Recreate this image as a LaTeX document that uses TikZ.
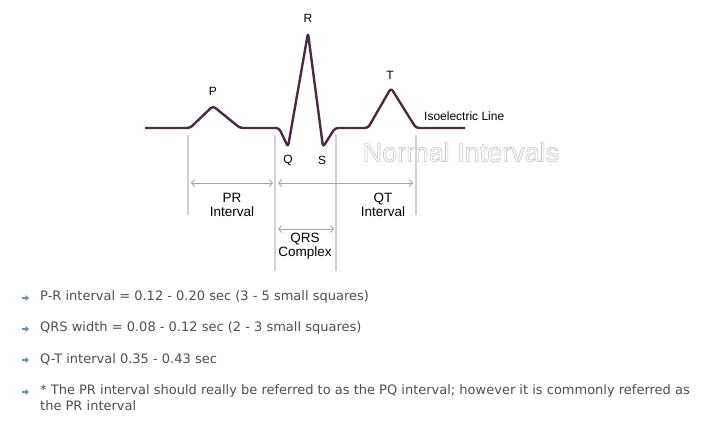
\documentclass[tikz,border=0pt]{standalone}
\usepackage{fontspec}
\usepackage{xcolor}
\usepackage{tikz}
\usetikzlibrary{arrows.meta,calc}
\setmainfont{Liberation Sans}
\newfontfamily\notefont{DejaVu Sans}
\definecolor{tracecol}{HTML}{4B2A43}
\definecolor{gridcol}{HTML}{D2D2D2}
\definecolor{outlinecol}{HTML}{C4C4C4}
\definecolor{spancol}{HTML}{A8A8A8}
\definecolor{notecol}{HTML}{4E4E4E}
\definecolor{tipcol}{HTML}{6E8DB5}
% hollow letters (stroke only)
\newcommand{\hollowtext}[1]{\special{pdf:literal 1 Tr 0.6 w}#1\special{pdf:literal 0 Tr}}
\tikzset{
  trace/.style={tracecol, line width=2.4pt, rounded corners=3pt, line join=round},
  marker/.style={gridcol, line width=1.8pt},
  span/.style={spancol, line width=0.9pt, {Straight Barb[length=3pt,width=7pt]}-{Straight Barb[length=3pt,width=7pt]}},
  wave/.style={font=\fontsize{12}{14}\selectfont, inner sep=0pt},
  spanlabel/.style={font=\fontsize{13.5}{14}\selectfont, align=center, inner sep=0pt},
  note/.style={font=\notefont\fontsize{13}{16}\selectfont, text=notecol, anchor=west, inner sep=0pt, align=left},
  tip/.style={tipcol, line width=1.8pt, -{Triangle[length=3.5pt,width=6pt]}}
}
\begin{document}
\begin{tikzpicture}[x=1pt,y=-1pt]
\useasboundingbox (0,0) rectangle (705,427);
% the wave
\draw[trace] (145,128) -- (190,128) -- (213,106) -- (240,128) -- (279,128) -- (288,147)
  -- (308,33) -- (323,147) -- (335,128) -- (368,128) -- (391,88) -- (416,128) -- (465,128);
\node[wave] (r) at (308,18) {R};
\node[wave] (p) at (213,91) {P};
\node[wave] (t) at (390,75) {T};
\node[wave] (q) at (288,160) {Q};
\node[wave] (s) at (322,160) {S};
\node[wave, anchor=west] (iso) at (424,116) {Isoelectric Line};
\node[inner sep=0pt, text=outlinecol, font=\fontsize{27}{30}\selectfont] (title) at (461,152)
  {\hollowtext{Normal Intervals}};
% interval markers
\draw[marker] (188,135) -- (188,215);
\draw[marker] (275,135) -- (275,271);
\draw[marker] (336,135) -- (336,271);
\draw[marker] (416,135) -- (416,215);
\coordinate (pr1) at (191,183);
\coordinate (pr2) at (273,183);
\coordinate (qt1) at (278,183);
\coordinate (qt2) at (413,183);
\coordinate (qrs1) at (278,229);
\coordinate (qrs2) at (334,229);
\draw[span] (pr1) -- (pr2);
\draw[span] (qt1) -- (qt2);
\draw[span] (qrs1) -- (qrs2);
\node[spanlabel] (prlab) at (232,205) {PR\\Interval};
\node[spanlabel] (qtlab) at (383,205) {QT\\Interval};
\node[spanlabel] (qrslab) at (305,246) {QRS\\Complex};
% notes
\draw[tip] (22,298) -- (29,298);
\node[note] (n1) at (40,297) {P-R interval = 0.12 - 0.20 sec (3 - 5 small squares)};
\draw[tip] (22,329) -- (29,329);
\node[note] (n2) at (40,328) {QRS width = 0.08 - 0.12 sec (2 - 3 small squares)};
\draw[tip] (22,360) -- (29,360);
\node[note] (n3) at (40,359) {Q-T interval 0.35 - 0.43 sec};
\draw[tip] (22,392) -- (29,392);
\node[note, anchor=north west] (n4) at (40,384) {* The PR interval should really be referred to as the PQ interval; however it is commonly referred as\\the PR interval};
\end{tikzpicture}
\end{document}
